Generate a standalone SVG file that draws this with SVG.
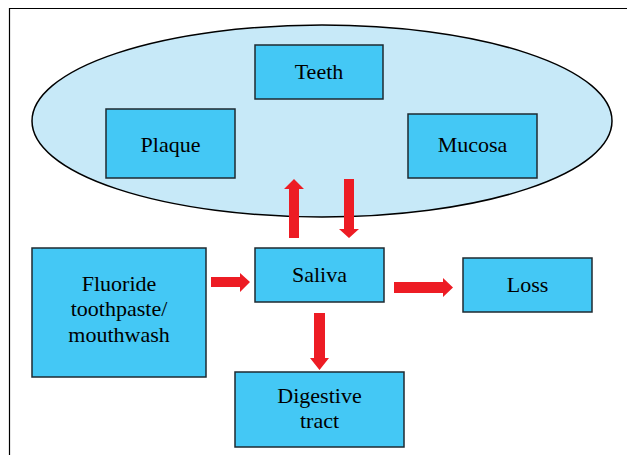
<svg xmlns="http://www.w3.org/2000/svg" width="627" height="455" viewBox="0 0 627 455">
<style>
.box{fill:#44C8F5;stroke:#1e2a30;stroke-width:1.5}
.lbl{font-family:"Liberation Serif","DejaVu Serif",serif;font-size:22px;fill:#000;text-anchor:middle}
.arr{fill:#ED1C24;stroke:none}
</style>
<rect width="627" height="455" fill="#fff"/>
<path d="M9.5 455 V8.5 H627" fill="none" stroke="#000" stroke-width="1.2"/>
<g id="mouth">
<ellipse cx="322" cy="121" rx="290" ry="96" fill="#C7E9F8" stroke="#000" stroke-width="1.5"/>
</g>
<g id="teeth"><rect class="box" x="255" y="45" width="128" height="54"/><text class="lbl" x="319" y="79">Teeth</text></g>
<g id="plaque"><rect class="box" x="106" y="109" width="129" height="69"/><text class="lbl" x="170.5" y="152">Plaque</text></g>
<g id="mucosa"><rect class="box" x="408" y="114" width="129" height="64"/><text class="lbl" x="472.5" y="152">Mucosa</text></g>
<g id="saliva"><rect class="box" x="255" y="248" width="129" height="54"/><text class="lbl" x="319.5" y="282">Saliva</text></g>
<g id="fluoride"><rect class="box" x="32" y="248" width="174" height="129"/><text class="lbl" x="119" y="291">Fluoride</text><text class="lbl" x="119" y="316">toothpaste/</text><text class="lbl" x="119" y="342">mouthwash</text></g>
<g id="loss"><rect class="box" x="463" y="258" width="129" height="54"/><text class="lbl" x="527.5" y="292">Loss</text></g>
<g id="digestive"><rect class="box" x="235" y="372" width="169" height="75"/><text class="lbl" x="319.5" y="403">Digestive</text><text class="lbl" x="319.5" y="428">tract</text></g>
<g id="connectors">
<polygon class="arr" points="289,238 299,238 299,189 304,189 294,179 284,189 289,189"/>
<polygon class="arr" points="344,179 354,179 354,229 359,229 349,238 339,229 344,229"/>
<polygon class="arr" points="211,277 240,277 240,273 250,282 240,292 240,287 211,287"/>
<polygon class="arr" points="394,282 443,282 443,278 453,287.5 443,297 443,293 394,293"/>
<polygon class="arr" points="314,313 325,313 325,358 329,358 319.5,370 310,358 314,358"/>
</g>
</svg>
